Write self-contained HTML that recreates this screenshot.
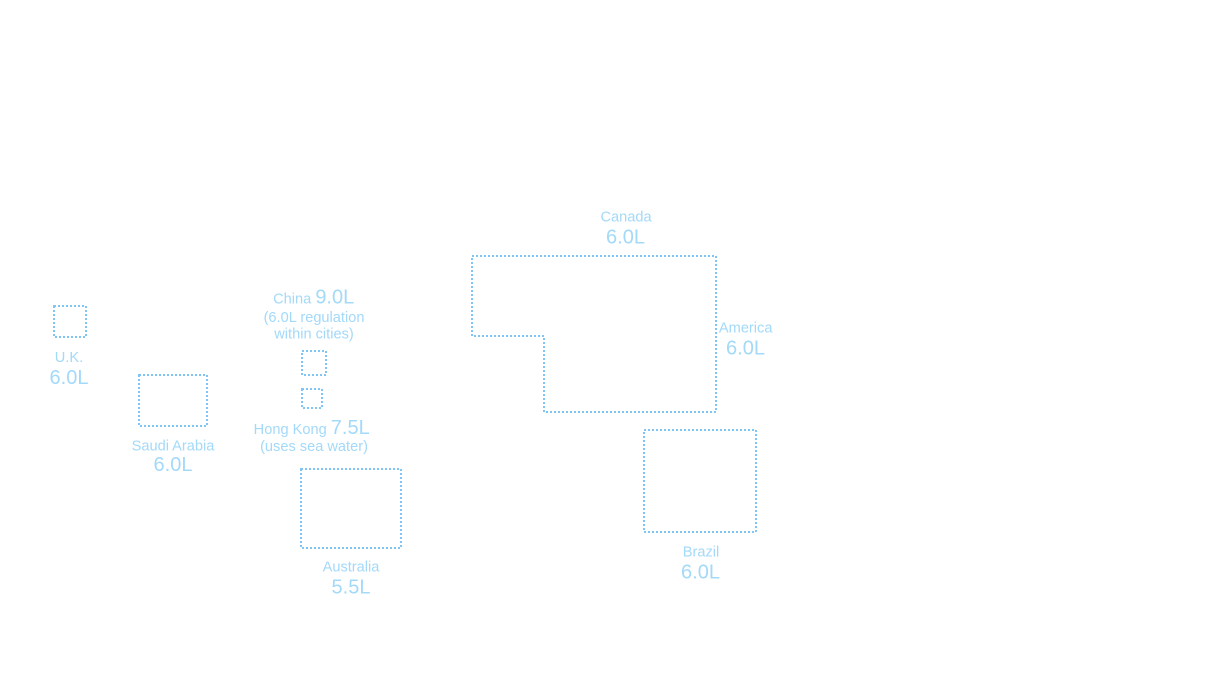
<!DOCTYPE html>
<html>
<head>
<meta charset="utf-8">
<style>
  html,body{margin:0;padding:0;background:#ffffff;}
  body{width:1216px;height:698px;overflow:hidden;}
  svg{display:block;}
  text{font-family:"Liberation Sans", Arial, sans-serif;fill:#a3d9f9;}
  .n{font-size:14.6px;}
  .v{font-size:20px;}
  .b{fill:none;stroke:#7fc6f6;stroke-width:2;stroke-dasharray:2 2;}
</style>
</head>
<body>
<svg width="1216" height="698" viewBox="0 0 1216 698" xmlns="http://www.w3.org/2000/svg">
  <!-- UK -->
  <rect class="b" x="54" y="306" width="32" height="31"/>
  <text class="n" x="69" y="362" text-anchor="middle">U.K.</text>
  <text class="v" x="69" y="384" text-anchor="middle">6.0L</text>

  <!-- Saudi Arabia -->
  <rect class="b" x="139" y="375" width="68" height="51"/>
  <text class="n" x="173" y="450.5" text-anchor="middle">Saudi Arabia</text>
  <text class="v" x="173" y="471" text-anchor="middle">6.0L</text>

  <!-- China -->
  <text x="313.7" y="303.3" text-anchor="middle"><tspan class="n">China </tspan><tspan class="v">9.0L</tspan></text>
  <text class="n" x="314" y="322" text-anchor="middle">(6.0L regulation</text>
  <text class="n" x="314" y="338.5" text-anchor="middle">within cities)</text>
  <rect class="b" x="302" y="351" width="24" height="24"/>

  <!-- Hong Kong -->
  <rect class="b" x="302" y="389" width="20" height="19"/>
  <text x="311.7" y="434" text-anchor="middle"><tspan class="n">Hong Kong </tspan><tspan class="v">7.5L</tspan></text>
  <text class="n" x="314" y="451" text-anchor="middle">(uses sea water)</text>

  <!-- Australia -->
  <rect class="b" x="301" y="469" width="100" height="79"/>
  <text class="n" x="351" y="571.7" text-anchor="middle">Australia</text>
  <text class="v" x="351" y="593.3" text-anchor="middle">5.5L</text>

  <!-- Canada / America -->
  <text class="n" x="626" y="221.7" text-anchor="middle">Canada</text>
  <text class="v" x="625.5" y="243.3" text-anchor="middle">6.0L</text>
  <path class="b" d="M472 256 L716 256 L716 412 L544 412 L544 336 L472 336 Z"/>
  <text class="n" x="745.7" y="332.3" text-anchor="middle">America</text>
  <text class="v" x="745.5" y="354.3" text-anchor="middle">6.0L</text>

  <!-- Brazil -->
  <rect class="b" x="644" y="430" width="112" height="102"/>
  <text class="n" x="701" y="556.7" text-anchor="middle">Brazil</text>
  <text class="v" x="700.5" y="578.3" text-anchor="middle">6.0L</text>
</svg>
</body>
</html>
